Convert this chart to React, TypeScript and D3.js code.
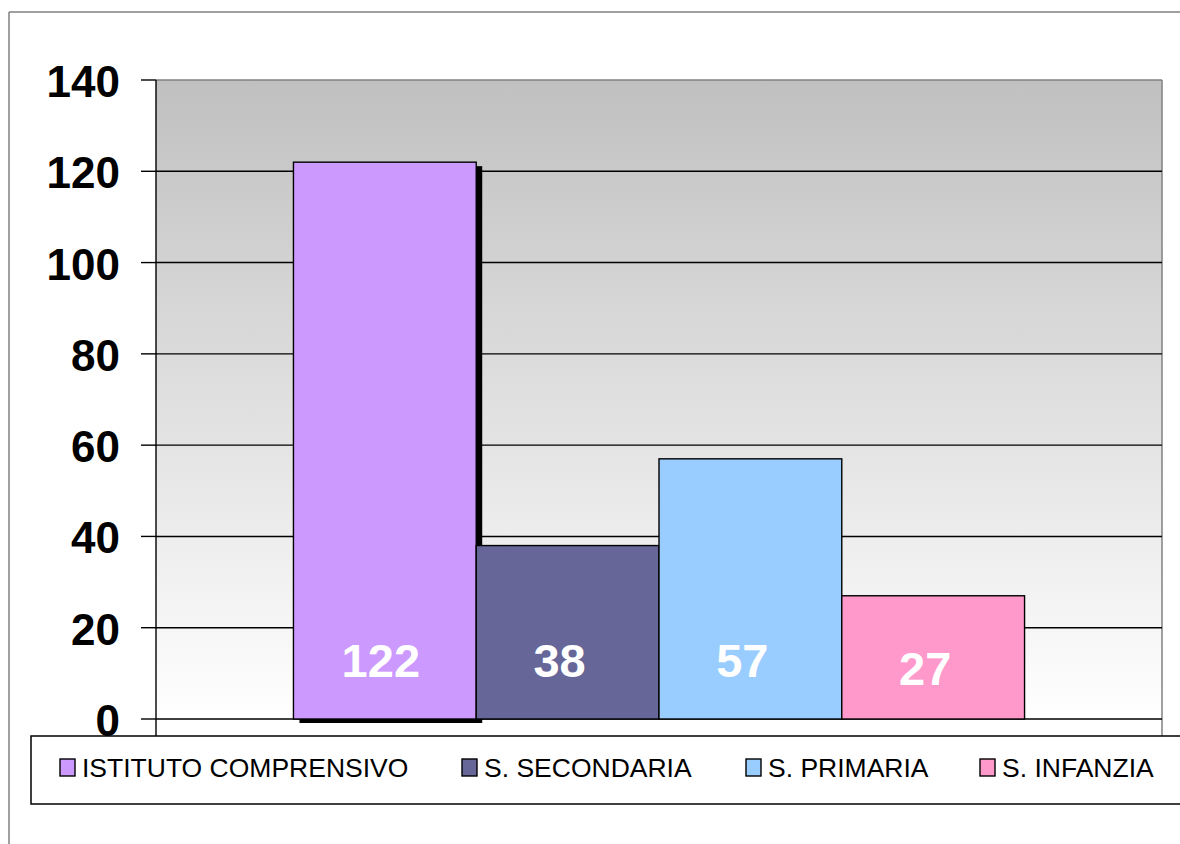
import React from "react";
import * as d3 from "d3";

const series = ["ISTITUTO COMPRENSIVO", "S. SECONDARIA", "S. PRIMARIA", "S. INFANZIA"];
const values = [122, 38, 57, 27];
const colors = ["#CC99FF", "#666699", "#99CCFF", "#FF99CC"];
const yTicks = [0, 20, 40, 60, 80, 100, 120, 140];

const W = 1180;
const H = 844;
const plot = { left: 156, top: 80, right: 1162, bottom: 719 };
const FONT = "'Liberation Sans', Arial, Helvetica, sans-serif";

export default function App() {
  const y = d3.scaleLinear().domain([0, 140]).range([plot.bottom, plot.top]);
  const x = d3
    .scaleBand<string>()
    .domain(series)
    .range([plot.left, plot.right])
    .paddingInner(0)
    .paddingOuter(0.752);
  const bw = x.bandwidth();

  const legendX = [60, 462, 746, 980];

  return (
    <svg
      width={W}
      height={H}
      style={{ position: "absolute", left: 0, top: 0, background: "#fff" }}
      fontFamily={FONT}
    >
      <defs>
        <linearGradient id="bg" x1="0" y1="0" x2="0" y2="1">
          <stop offset="0" stopColor="#c0c0c0" />
          <stop offset="1" stopColor="#ffffff" />
        </linearGradient>
      </defs>
      <rect x={0} y={0} width={W} height={H} fill="#fff" />
      {/* outer chart frame */}
      <line x1={9} y1={12} x2={W} y2={12} stroke="#808080" strokeWidth={1.5} />
      <line x1={9} y1={12} x2={9} y2={H} stroke="#808080" strokeWidth={1.5} />

      {/* plot background */}
      <rect
        x={plot.left}
        y={plot.top}
        width={plot.right - plot.left}
        height={plot.bottom - plot.top}
        fill="url(#bg)"
      />
      {/* plot border top/right */}
      <line x1={plot.left} y1={plot.top} x2={plot.right} y2={plot.top} stroke="#808080" strokeWidth={1.5} />
      <line x1={plot.right} y1={plot.top} x2={plot.right} y2={736} stroke="#808080" strokeWidth={1.5} />

      {/* gridlines */}
      {yTicks.map((t) =>
        t === 0 || t === 140 ? null : (
          <line key={"g" + t} x1={plot.left} x2={plot.right} y1={y(t)} y2={y(t)} stroke="#000" strokeWidth={1.4} />
        )
      )}

      {/* shadow of first bar */}
      <rect
        x={(x(series[0]) as number) + 6}
        y={y(values[0]) + 4}
        width={bw}
        height={y(0) - y(values[0])}
        fill="#000"
      />

      {/* x axis line */}
      <line x1={plot.left} x2={plot.right} y1={y(0)} y2={y(0)} stroke="#000" strokeWidth={1.4} />

      {/* bars */}
      {series.map((s, i) => (
        <rect
          key={s}
          x={x(s) as number}
          y={y(values[i])}
          width={bw}
          height={y(0) - y(values[i])}
          fill={colors[i]}
          stroke="#000"
          strokeWidth={1.4}
        />
      ))}

      {/* value labels */}
      {series.map((s, i) => (
        <text
          key={"v" + s}
          x={(x(s) as number) + bw / 2 - (i === 0 ? 4 : 8)}
          y={y(0) - 42 + (i === 3 ? 8 : 0)}
          fill="#fff"
          fontSize={47}
          fontWeight="bold"
          textAnchor="middle"
        >
          {values[i]}
        </text>
      ))}

      {/* y axis */}
      <line x1={plot.left} x2={plot.left} y1={plot.top} y2={736} stroke="#000" strokeWidth={1.4} />
      {yTicks.map((t) => (
        <g key={"t" + t}>
          <line x1={141} x2={plot.left} y1={y(t)} y2={y(t)} stroke="#000" strokeWidth={1.4} />
          <text x={120} y={y(t) + 17} fontSize={44} fontWeight="bold" textAnchor="end" fill="#000">
            {t}
          </text>
        </g>
      ))}

      {/* legend */}
      <rect x={31} y={736} width={W} height={68} fill="#fff" stroke="#000" strokeWidth={1.5} />
      {series.map((s, i) => (
        <g key={"l" + s}>
          <rect x={legendX[i]} y={759} width={15} height={17} fill={colors[i]} stroke="#000" strokeWidth={1.4} />
          <text x={legendX[i] + 22} y={777} fontSize={26.5} fill="#000">
            {s}
          </text>
        </g>
      ))}
    </svg>
  );
}
